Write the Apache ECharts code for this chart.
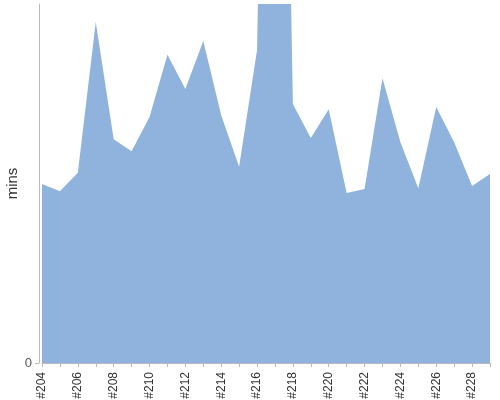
<!DOCTYPE html>
<html>
<head>
<meta charset="utf-8">
<script src="https://cdn.jsdelivr.net/npm/echarts@6/dist/echarts.min.js"></script>
<style>
  html, body { margin: 0; padding: 0; background: #fff; }
  #main { width: 500px; height: 400px; }
</style>
</head>
<body>
<div id="main"></div>
<script>
const categories = ['#204', '#205', '#206', '#207', '#208', '#209', '#210', '#211', '#212', '#213',
  '#214', '#215', '#216', '#217', '#218', '#219', '#220', '#221', '#222', '#223',
  '#224', '#225', '#226', '#227', '#228', '#229'];
const mins = [29.9, 28.7, 31.8, 57.0, 37.4, 35.4, 41.1, 51.5, 45.8, 53.8,
  41.4, 32.8, 52.3, 211, 43.3, 37.6, 42.4, 28.4, 29.1, 47.6,
  36.9, 29.2, 42.8, 36.9, 29.6, 31.6];
const yTicks = [0];

const chart = echarts.init(document.getElementById('main'));

chart.setOption({
  animation: false,
  grid: { left: 42, right: 10, top: 4, bottom: 37, outerBoundsMode: 'none', containLabel: false },
  xAxis: {
    type: 'category',
    data: categories,
    boundaryGap: false,
    axisLine: { lineStyle: { color: '#bbb' } },
    axisTick: { interval: 0, length: 4, lineStyle: { color: '#bbb' } },
    axisLabel: {
      interval: 1,
      rotate: 90,
      margin: 9,
      color: '#333',
      fontFamily: 'Liberation Sans',
      fontSize: 12
    }
  },
  yAxis: {
    type: 'value',
    min: 0,
    max: 60,
    offset: 3,
    name: 'mins',
    nameLocation: 'middle',
    nameGap: 19,
    nameMoveOverlap: false,
    nameTextStyle: { color: '#333', fontFamily: 'Liberation Sans', fontSize: 15 },
    axisLine: { show: true, lineStyle: { color: '#bbb' } },
    axisTick: { show: true, length: 4, customValues: yTicks, lineStyle: { color: '#bbb' } },
    axisLabel: { customValues: yTicks, color: '#555', fontFamily: 'Liberation Sans', fontSize: 13, margin: 7 },
    splitLine: { show: false }
  },
  series: [{
    type: 'line',
    data: mins,
    showSymbol: false,
    symbol: 'none',
    clip: true,
    lineStyle: { width: 0 },
    areaStyle: { color: '#8FB3DC', opacity: 1 }
  }]
});
</script>
</body>
</html>
